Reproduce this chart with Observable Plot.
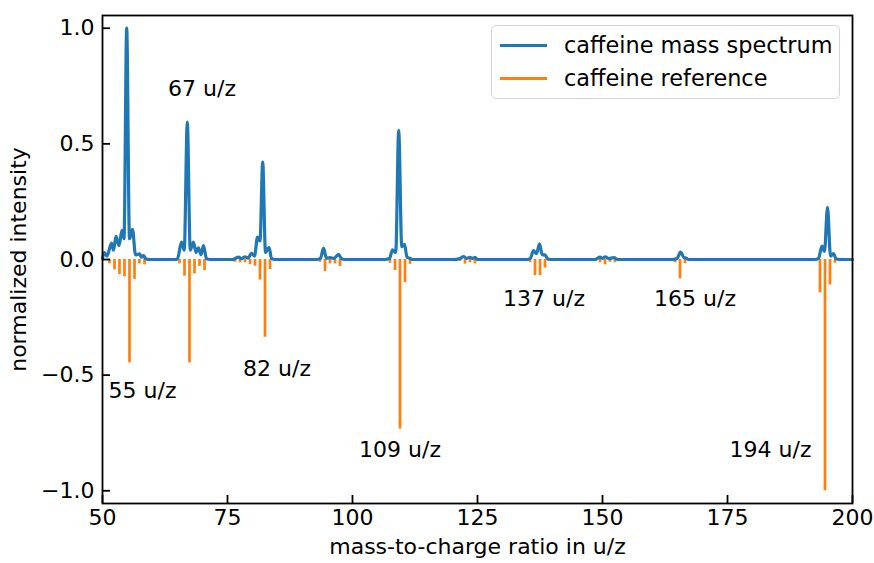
<!DOCTYPE html>
<html>
<head>
<meta charset="utf-8">
<script src="https://cdn.jsdelivr.net/npm/d3@7"></script>
<script src="https://cdn.jsdelivr.net/npm/@observablehq/plot@0.6"></script>
<style>
  html, body { margin: 0; padding: 0; background: #fff; }
  #wrap { position: relative; width: 874px; height: 563px; font-family: "DejaVu Sans", sans-serif; }
  #legend { position: absolute; left: 491px; top: 25px; width: 347px; height: 72px;
            border: 1.5px solid #d4d4d4; border-radius: 5px; background: rgba(255,255,255,0.85);
            font-size: 22.4px; color: #000; }
  .lg-row { position: absolute; left: 0; height: 30px; width: 100%; }
  .lg-line { position: absolute; left: 8px; width: 47px; height: 3px; top: 13px; }
  .lg-text { position: absolute; left: 72px; top: 0px; line-height: 28px; white-space: nowrap; }
</style>
</head>
<body>
<div id="wrap"></div>
<script>
// ---- data ----
// measured spectrum (m/z, normalized intensity)
const specMz = [50.0, 50.4, 50.9, 51.8, 52.2, 52.7, 53.3, 53.9, 54.3, 54.84, 55.4, 56.0, 56.6, 57.4, 57.8, 58.2, 58.7, 59.5,
  64.5, 65.0, 65.8, 66.35, 66.96, 67.55, 68.2, 68.7, 69.2, 69.7, 70.2, 70.8, 71.5,
  76.0, 76.5, 77.2, 77.8, 78.5, 79.1, 79.8, 80.4, 81.0, 81.5, 82.04, 82.6, 83.3, 83.8, 84.5,
  93.0, 93.6, 94.2, 94.8, 95.5, 96.3, 97.2, 97.8, 98.5,
  106.5, 107.4, 108.0, 108.65, 109.24, 109.85, 110.4, 110.9, 111.5, 112.0,
  120.0, 121.5, 122.2, 122.8, 123.5, 124.0, 124.5, 125.0,
  135.0, 135.6, 136.2, 136.8, 137.4, 137.95, 138.5, 139.0, 139.6,
  148.5, 149.5, 150.0, 150.6, 151.2, 152.3, 153.0,
  164.0, 164.9, 165.6, 166.3, 166.7, 167.2,
  192.5, 193.2, 193.9, 194.4, 195.0, 195.6, 196.2, 196.7, 197.5, 200.0];
const specI = [0.005, 0.03, 0.015, 0.071, 0.04, 0.10, 0.06, 0.126, 0.09, 1.0, 0.09, 0.13, 0.02, 0.024, 0.01, 0.017, 0.002, 0.0,
  0.0, 0.003, 0.075, 0.04, 0.594, 0.04, 0.075, 0.03, 0.05, 0.02, 0.06, 0.003, 0.0,
  0.0, 0.004, 0.01, 0.004, 0.012, 0.006, 0.027, 0.015, 0.097, 0.08, 0.421, 0.03, 0.053, 0.005, 0.0,
  0.0, 0.005, 0.049, 0.005, 0.008, 0.005, 0.022, 0.003, 0.0,
  0.0, 0.004, 0.042, 0.03, 0.558, 0.055, 0.065, 0.01, 0.005, 0.0,
  0.0, 0.004, 0.013, 0.005, 0.009, 0.005, 0.009, 0.0,
  0.0, 0.006, 0.039, 0.025, 0.068, 0.02, 0.02, 0.003, 0.0,
  0.0, 0.01, 0.005, 0.012, 0.004, 0.008, 0.0,
  0.0, 0.004, 0.032, 0.008, 0.006, 0.0,
  0.0, 0.005, 0.058, 0.035, 0.226, 0.015, 0.025, 0.003, 0.0, 0.0];

// reference stick spectrum (m/z, negative normalized intensity)
const refMz = [50.4, 51.4, 52.4, 53.4, 54.4, 55.4, 56.4, 57.4, 58.4, 61.4, 62.4,
  65.4, 66.4, 67.4, 68.4, 69.4, 70.4,
  76.5, 77.5, 78.5, 79.5, 80.5, 81.5, 82.5, 83.5,
  93.5, 94.5, 95.5, 96.5, 97.5,
  106.5, 107.5, 108.5, 109.5, 110.5, 111.5, 112.5,
  120.5, 121.5, 122.5, 123.5, 124.5,
  132.5, 133.5, 134.5, 135.5, 136.5, 137.5, 138.5, 139.5, 140.5,
  147.5, 148.5, 149.5, 150.5, 151.5, 152.5,
  161.5, 163.5, 164.5, 165.5, 166.5,
  193.5, 194.5, 195.5, 196.5, 197.5];
const refI = [-0.005, -0.019, -0.045, -0.065, -0.075, -0.447, -0.086, -0.019, -0.023, -0.004, -0.004,
  -0.019, -0.072, -0.447, -0.062, -0.03, -0.048,
  -0.012, -0.014, -0.014, -0.022, -0.029, -0.089, -0.336, -0.043,
  -0.012, -0.052, -0.019, -0.019, -0.03,
  -0.004, -0.016, -0.048, -0.733, -0.10, -0.021, -0.004,
  -0.008, -0.008, -0.02, -0.014, -0.019,
  -0.004, -0.004, -0.005, -0.014, -0.069, -0.069, -0.037, -0.005, -0.004,
  -0.004, -0.005, -0.014, -0.023, -0.012, -0.014,
  -0.004, -0.008, -0.014, -0.084, -0.017,
  -0.144, -1.0, -0.11, -0.016, -0.005];

// peak annotations (text and anchor in data units)
const annText = ["55 u/z", "67 u/z", "82 u/z", "109 u/z", "137 u/z", "165 u/z", "194 u/z"];
const annMz   = [58.0, 69.9, 84.9, 109.5, 138.3, 168.5, 183.6];
const annI    = [-0.567, 0.736, -0.472, -0.822, -0.169, -0.169, -0.822];

const xTicks = [50, 75, 100, 125, 150, 175, 200];
const yTicks = [-1.0, -0.5, 0.0, 0.5, 1.0];
const seriesNames = ["caffeine mass spectrum", "caffeine reference"];
const colors = ["#1f77b4", "#ff7f0e"];

// ---- build tables ----
const spec = specMz.map((m, i) => ({mz: m, v: specI[i]}));
const ref = refMz.map((m, i) => ({mz: m, v: refI[i]}));
const ann = annText.map((t, i) => ({text: t, mz: annMz[i], v: annI[i]}));

const chart = Plot.plot({
  width: 874,
  height: 563,
  marginLeft: 102,
  marginRight: 22,
  marginTop: 15,
  marginBottom: 60,
  style: {fontFamily: "DejaVu Sans, sans-serif", fontSize: "22px", background: "white", color: "black"},
  x: {domain: [50, 200], ticks: xTicks},
  y: {domain: [-1.055, 1.055], ticks: yTicks, tickFormat: d3.format(".1f")},
  marks: [
    Plot.ruleX(ref, {x: "mz", y1: 0, y2: "v", stroke: colors[1], strokeWidth: 2.7}),
    Plot.line(spec, {x: "mz", y: "v", stroke: colors[0], strokeWidth: 3.2, curve: "monotone-x", strokeLinejoin: "round"}),
    Plot.text(ann, {x: "mz", y: "v", text: "text", fontSize: 22, fill: "black"}),
    Plot.frame({stroke: "black", strokeWidth: 1.8}),
    Plot.axisX({ticks: xTicks, tickSize: -8, tickPadding: 14, strokeWidth: 1.8,
      label: "mass-to-charge ratio in u/z", labelAnchor: "center", labelOffset: 50, labelArrow: "none"}),
    Plot.axisY({ticks: yTicks, tickFormat: d3.format(".1f"), tickSize: -8, tickPadding: 16, strokeWidth: 1.8,
      label: "normalized intensity", labelAnchor: "center", labelOffset: 92, labelArrow: "none"})
  ]
});

const wrap = document.getElementById("wrap");
wrap.appendChild(chart);

// legend overlay
const lg = document.createElement("div");
lg.id = "legend";
seriesNames.forEach((name, i) => {
  const row = document.createElement("div");
  row.className = "lg-row";
  row.style.top = (5 + i * 33) + "px";
  const ln = document.createElement("div");
  ln.className = "lg-line";
  ln.style.background = colors[i];
  const tx = document.createElement("div");
  tx.className = "lg-text";
  tx.textContent = name;
  row.appendChild(ln);
  row.appendChild(tx);
  lg.appendChild(row);
});
wrap.appendChild(lg);
</script>
</body>
</html>
